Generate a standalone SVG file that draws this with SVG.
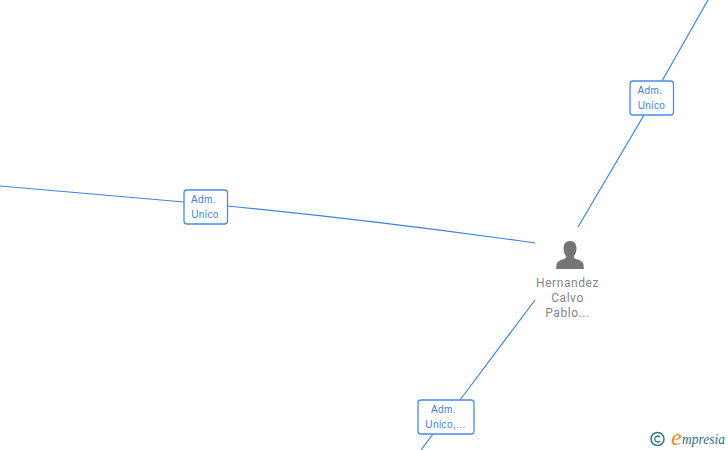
<svg xmlns="http://www.w3.org/2000/svg" width="728" height="450" viewBox="0 0 728 450">
<style>
.c{fill:none;stroke:#3c83e4;stroke-width:1.2}
.b{fill:#fff;stroke:#4a8ae6;stroke-width:1.3}
.l{font:10px "Liberation Sans",Arial,sans-serif;fill:#3c83e4;text-anchor:middle;letter-spacing:.4px}
.n{font:12px "Roboto","Liberation Sans",Arial,sans-serif;fill:#858585;text-anchor:middle;letter-spacing:.55px}
</style>
<rect width="728" height="450" fill="#fff"/>
<g id="connectors">
<path class="c" d="M0 186L184 202M228 206Q380 221 535 243"/>
<path class="c" d="M708 0L662 81M644 115L578 227"/>
<path class="c" d="M535 300L460 400M433 434L421 450"/>
</g>
<g id="label-1"><rect class="b" x="184" y="190" width="43.500" height="34" rx="3"/><text class="l" x="203.500" y="203">Adm.</text><text class="l" x="205" y="218">Unico</text></g>
<g id="label-2"><rect class="b" x="630" y="81" width="43.500" height="34" rx="3"/><text class="l" x="650" y="94">Adm.</text><text class="l" x="651.500" y="109">Unico</text></g>
<g id="label-3"><rect class="b" x="418" y="400" width="56" height="34" rx="3"/><text class="l" x="443.500" y="413">Adm.</text><text class="l" x="445.500" y="428">Unico,...</text></g>
<g id="person">
<path fill="#757575" d="M570 241c4.500 0 6.500 3.300 6.500 7.500 0 3-1 5.700-2.600 7.400-.6 1.500.3 2.400 2 3 3.600 1.100 6.500 2.300 7.300 4.500.4 1.200.6 3 .6 5.600h-27.600c0-2.600.2-4.400.6-5.600.8-2.200 3.700-3.400 7.300-4.500 1.700-.6 2.600-1.500 2-3-1.600-1.700-2.600-4.400-2.600-7.400 0-4.200 2-7.500 6.500-7.500z"/>
<text class="n" x="567.500" y="287">Hernandez</text><text class="n" x="567.500" y="302">Calvo</text><text class="n" x="567.500" y="317">Pablo...</text>
</g>
<g id="logo">
<circle cx="657.500" cy="439" r="6.500" fill="none" stroke="#3b7a8c" stroke-width="1.600"/>
<path d="M660 437a3 3 0 1 0 0 4" fill="none" stroke="#3b7a8c" stroke-width="1.300"/>
<text x="671" y="445" font-family="'Liberation Serif',serif" font-style="italic" font-size="24" fill="#f08a1c">e</text>
<text x="682" y="444" font-family="'Liberation Serif',serif" font-style="italic" font-size="14" fill="#2d6f80" textLength="43" lengthAdjust="spacingAndGlyphs">mpresia</text>
</g>
</svg>
